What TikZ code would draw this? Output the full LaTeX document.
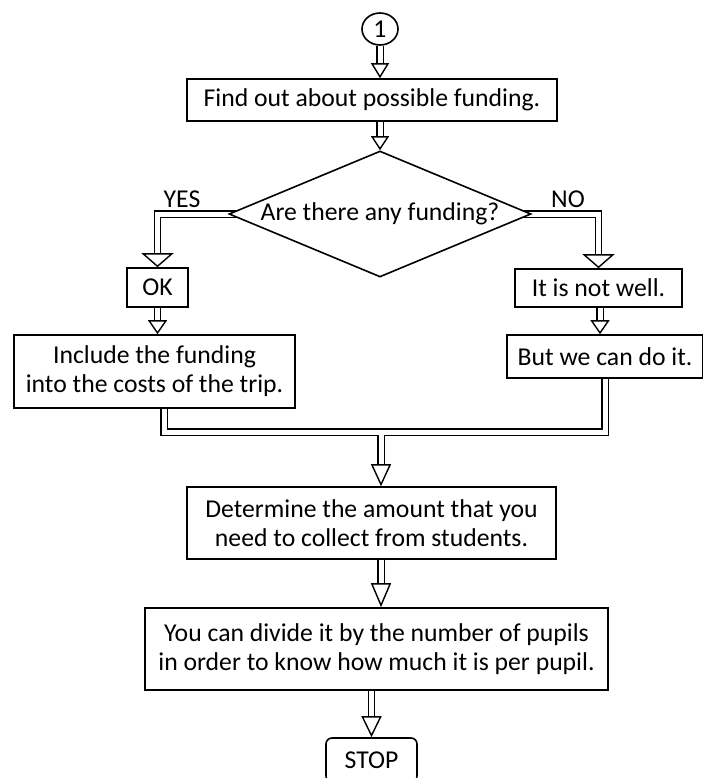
\documentclass[tikz,border=0pt]{standalone}
\usepackage{fontspec}
\setmainfont{Carlito}
\usetikzlibrary{arrows.meta,shapes.geometric,backgrounds}
% #1 head width, #2 head length, #3 path
\newcommand\dblarrow[3]{\draw[shaftplain, shorten >={#2pt-2pt}] #3; \draw[draw=white, line width=0.2pt, -{Triangle[width=#1pt,length=#2pt,color=black,fill=white,line width=1.4pt]}] #3;}
\begin{document}
\begin{tikzpicture}[x=1pt,y=-1pt,
  txt/.style={font=\fontsize{25.7}{29}\selectfont},
  box/.style={draw, line width=1.6pt, fill=white, inner sep=0pt, align=center, txt},
  lbl/.style={txt, inner sep=0pt},
  shaftplain/.style={line width=1.4pt, double=white, double distance=5pt}
]
\useasboundingbox (0,0) rectangle (702,778);

\node[draw, ellipse, line width=1.6pt, minimum width=36pt, minimum height=32pt, inner sep=0pt, fill=white, txt] (one) at (380,29) {1};
\node[box, minimum width=370pt, minimum height=42pt] (find) at (372,100) {Find out about possible funding.};
\node[box, diamond, aspect=2.36, minimum width=302pt, minimum height=126pt] (dia) at (380,214) {Are there any funding?};
\node[lbl] (yes) at (182,199) {YES};
\node[lbl] (no) at (568,199) {NO};
\node[box, minimum width=61pt, minimum height=39pt] (ok) at (157.5,287.5) {OK};
\node[box, minimum width=167pt, minimum height=38pt] (nw) at (598.5,288) {It is not well.};
\node[box, minimum width=281pt, minimum height=73pt] (inc) at (154.5,371.5) {Include the funding\\into the costs of the trip.};
\node[box, minimum width=196pt, minimum height=43pt] (but) at (605,356.5) {But we can do it.};
\coordinate (jn) at (381,432);
\node[box, minimum width=369pt, minimum height=72pt] (det) at (371.5,523) {Determine the amount that you\\need to collect from students.};
\node[box, minimum width=463pt, minimum height=82pt] (div) at (376.5,649) {You can divide it by the number of pupils\\in order to know how much it is per pupil.};
\node[box, rounded corners=6pt, minimum width=91pt, minimum height=44pt] (stop) at (371.5,760) {STOP};

\begin{scope}[on background layer]
\dblarrow{18}{15}{(one.south) -- (one.south |- find.north)}
\dblarrow{18}{14}{(find.south -| dia.north) -- (dia.north)}
\dblarrow{32}{14}{([xshift=10pt]dia.west) -| (ok.north)}
\dblarrow{32}{14}{([xshift=-10pt]dia.east) -| (nw.north)}
\dblarrow{19}{14}{(ok.south) -- (ok.south |- inc.north)}
\dblarrow{19}{14}{([xshift=1.5pt]nw.south) -- ([xshift=1.5pt]nw.south |- but.north)}
\draw[shaftplain] ([xshift=9.5pt]inc.south) |- (jn) -| (but.south);
\dblarrow{20}{22}{(jn) -- (jn |- det.north)}
\draw[white, line width=5pt] ([xshift=-5.5pt]jn) -- ([xshift=5.5pt]jn);
\dblarrow{20}{24}{(jn |- det.south) -- (jn |- div.north)}
\dblarrow{20}{21}{(div.south -| stop.north) -- (stop.north)}
\end{scope}
\end{tikzpicture}
\end{document}
